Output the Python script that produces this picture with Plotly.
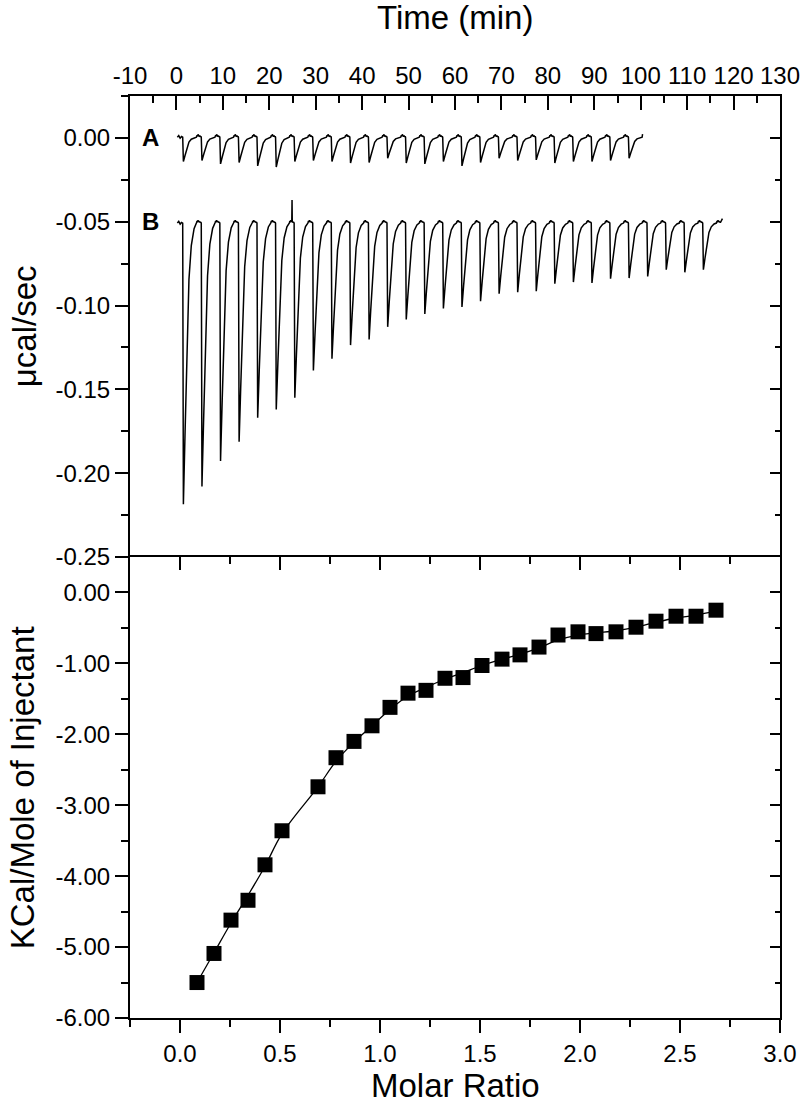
import plotly.graph_objects as go

# ---------------- bottom panel: integrated heats ----------------
molar_ratio = [0.085, 0.17, 0.255, 0.34, 0.425, 0.51, 0.69, 0.78, 0.87, 0.96,
               1.05, 1.14, 1.23, 1.325, 1.415, 1.51, 1.61, 1.70, 1.795, 1.89,
               1.99, 2.08, 2.18, 2.28, 2.38, 2.48, 2.58, 2.68]
heat_kcal = [-5.50, -5.09, -4.62, -4.34, -3.84, -3.36, -2.74, -2.33, -2.10, -1.88,
             -1.62, -1.42, -1.38, -1.21, -1.20, -1.03, -0.94, -0.88, -0.77, -0.60,
             -0.555, -0.58, -0.555, -0.49, -0.405, -0.335, -0.335, -0.25]
fit_kcal = [-5.50, -5.08, -4.66, -4.27, -3.86, -3.40, -2.74, -2.38, -2.11, -1.88,
            -1.65, -1.46, -1.34, -1.22, -1.13, -1.03, -0.94, -0.87, -0.78, -0.67,
            -0.60, -0.57, -0.54, -0.49, -0.42, -0.36, -0.32, -0.26]

ratio_ticks = [0.0, 0.5, 1.0, 1.5, 2.0, 2.5, 3.0]
ratio_labels = ["0.0", "0.5", "1.0", "1.5", "2.0", "2.5", "3.0"]
kcal_ticks = [0, -1, -2, -3, -4, -5, -6]
kcal_labels = ["0.00", "-1.00", "-2.00", "-3.00", "-4.00", "-5.00", "-6.00"]

# ---------------- top panel: raw thermograms ----------------
time_ticks = [-10, 0, 10, 20, 30, 40, 50, 60, 70, 80, 90, 100, 110, 120, 130]
time_labels = ["-10", "0", "10", "20", "30", "40", "50", "60", "70", "80",
               "90", "100", "110", "120", "130"]
power_ticks = [0.0, -0.05, -0.10, -0.15, -0.20, -0.25]
power_labels = ["0.00", "-0.05", "-0.10", "-0.15", "-0.20", "-0.25"]

# trace A (blank titration): injection peak times (min) and peak minima (ucal/s)
peak_time_A = [1.5, 5.5, 9.5, 13.5, 17.5, 21.5, 25.5, 29.5, 33.5, 37.5,
               41.5, 45.5, 49.5, 53.5, 57.5, 61.5, 65.5, 69.5, 73.5, 77.5,
               81.5, 85.5, 89.5, 93.5, 97.5]
peak_min_A = [-0.0141, -0.0135, -0.0155, -0.0147, -0.0167, -0.0174, -0.0141, -0.0135,
              -0.0141, -0.0150, -0.0147, -0.0121, -0.0150, -0.0155, -0.0141, -0.0167,
              -0.0147, -0.0121, -0.0135, -0.0131, -0.0150, -0.0141, -0.0141, -0.0135,
              -0.0121]
baseline_A = 0.0004
span_A = [0.2, 100.4]
end_level_A = 0.0022

# trace B (sample titration)
peak_time_B = [1.5, 5.5, 9.5, 13.5, 17.5, 21.5, 25.5, 29.5, 33.5, 37.5,
               41.5, 45.5, 49.5, 53.5, 57.5, 61.5, 65.5, 69.5, 73.5, 77.5,
               81.5, 85.5, 89.5, 93.5, 97.5, 101.5, 105.5, 109.5, 113.5]
peak_min_B = [-0.2185, -0.2080, -0.1927, -0.1812, -0.1669, -0.1620, -0.1550, -0.1387,
              -0.1317, -0.1236, -0.1202, -0.1127, -0.1083, -0.1050, -0.1018, -0.1008,
              -0.0974, -0.0929, -0.0920, -0.0915, -0.0870, -0.0860, -0.0865, -0.0840,
              -0.0836, -0.0826, -0.0786, -0.0802, -0.0786]
baseline_B = -0.0508
span_B = [0.2, 117.6]
end_level_B = -0.0482
artifact_B = (24.9, -0.037)

# shape of one injection peak: offset from peak (min) and fraction of peak depth
peak_shape_dt = [-0.15, 0.0, 0.35, 0.7, 1.2, 1.7, 2.3, 2.8]
peak_shape_fr = [0.0, 1.0, 0.75, 0.5, 0.2, 0.08, 0.02, 0.0]
# small baseline wiggle between peaks (offset from peak, ucal/s)
wiggle_dt = [2.95, 3.05, 3.15, 3.25, 3.35, 3.45, 3.55, 3.65, 3.75]
wiggle_dv = [0.0012, 0.0005, 0.0017, 0.0008, 0.0013, 0.0004, 0.0010, 0.0002, 0.0006]


def thermogram(peaks, mins, base, span, end_level, extra=None):
    ts, vs = [span[0]], [base]
    ts += [span[0] + 0.3, span[0] + 0.6, span[0] + 0.9]
    vs += [base + 0.0010, base - 0.0006, base + 0.0004]
    for tp, mn in zip(peaks, mins):
        depth = mn - base
        for dt, fr in zip(peak_shape_dt, peak_shape_fr):
            ts.append(tp + dt)
            vs.append(base + fr * depth)
        for dt, dv in zip(wiggle_dt, wiggle_dv):
            if tp + dt < span[1]:
                ts.append(tp + dt)
                vs.append(base + dv)
    if extra is not None:
        ts.append(extra[0])
        vs.append(extra[1])
    ts.append(span[1])
    vs.append(end_level)
    pts = sorted(zip(ts, vs))
    return [p[0] for p in pts], [p[1] for p in pts]


tA, vA = thermogram(peak_time_A, peak_min_A, baseline_A, span_A, end_level_A)
tB, vB = thermogram(peak_time_B, peak_min_B, baseline_B, span_B, end_level_B, artifact_B)

fig = go.Figure()
line_style = dict(color="black", width=1.5)
fig.add_trace(go.Scatter(x=tA, y=vA, mode="lines", line=line_style, xaxis="x2", yaxis="y2"))
fig.add_trace(go.Scatter(x=tB, y=vB, mode="lines", line=line_style, xaxis="x2", yaxis="y2"))
fig.add_trace(go.Scatter(x=molar_ratio, y=fit_kcal, mode="lines",
                         line=dict(color="black", width=1.3, shape="spline"),
                         xaxis="x", yaxis="y"))
fig.add_trace(go.Scatter(x=molar_ratio, y=heat_kcal, mode="markers",
                         marker=dict(symbol="square", size=15, color="black"),
                         xaxis="x", yaxis="y"))
# dummy traces so that mirror axes are drawn
fig.add_trace(go.Scatter(x=[None], y=[None], xaxis="x3", yaxis="y"))
fig.add_trace(go.Scatter(x=[None], y=[None], xaxis="x", yaxis="y3"))
fig.add_trace(go.Scatter(x=[None], y=[None], xaxis="x2", yaxis="y4"))

FONT = "Liberation Sans, Arial, sans-serif"
tick_font = dict(family=FONT, size=24, color="black")
common = dict(showline=True, linewidth=2, linecolor="black", showgrid=False,
              zeroline=False, tickwidth=2, tickcolor="black", tickfont=tick_font,
              automargin=False, ticklabeloverflow="allow")

fig.update_layout(
    width=800, height=1112,
    margin=dict(l=130, r=20, t=96, b=94),
    plot_bgcolor="white", paper_bgcolor="white", showlegend=False,
    font=dict(family=FONT, color="black"),
    xaxis=dict(domain=[0, 1], anchor="y", range=[-0.25, 3.0],
               tickmode="array", tickvals=ratio_ticks, ticktext=ratio_labels,
               ticks="outside", ticklen=13,
               minor=dict(tickmode="linear", tick0=0, dtick=0.25, ticks="outside",
                          ticklen=7, tickwidth=2, tickcolor="black"),
               **common),
    xaxis3=dict(overlaying="x", anchor="y", side="top", range=[-0.25, 3.0],
                tickmode="array", tickvals=ratio_ticks, showticklabels=False,
                ticks="inside", ticklen=13,
                minor=dict(tickmode="linear", tick0=0, dtick=0.25, ticks="inside",
                           ticklen=7, tickwidth=2, tickcolor="black"),
                **common),
    yaxis=dict(domain=[0, 0.5], anchor="x", range=[-6, 0.5],
               tickmode="array", tickvals=kcal_ticks, ticktext=kcal_labels,
               ticks="outside", ticklen=13,
               minor=dict(tickmode="linear", tick0=0, dtick=0.5, ticks="outside",
                          ticklen=7, tickwidth=2, tickcolor="black"),
               **common),
    yaxis3=dict(overlaying="y", anchor="x", side="right", range=[-6, 0.5],
                tickmode="array", tickvals=kcal_ticks, showticklabels=False,
                ticks="inside", ticklen=10,
                minor=dict(tickmode="linear", tick0=0, dtick=0.5, ticks="inside",
                           ticklen=5, tickwidth=2, tickcolor="black"),
                **common),
    xaxis2=dict(domain=[0, 1], anchor="y2", side="top", range=[-10, 130],
                tickmode="array", tickvals=time_ticks, ticktext=time_labels,
                ticks="inside", ticklen=14,
                minor=dict(tickmode="linear", tick0=0, dtick=5, ticks="inside",
                           ticklen=7, tickwidth=2, tickcolor="black"),
                **common),
    yaxis2=dict(domain=[0.5, 1], anchor="x2", range=[-0.25, 0.025],
                tickmode="array", tickvals=power_ticks, ticktext=power_labels,
                ticks="outside", ticklen=13,
                minor=dict(tickmode="linear", tick0=0, dtick=0.025, ticks="outside",
                           ticklen=7, tickwidth=2, tickcolor="black"),
                **common),
    yaxis4=dict(overlaying="y2", anchor="x2", side="right", range=[-0.25, 0.025],
                tickmode="array", tickvals=power_ticks, showticklabels=False,
                ticks="inside", ticklen=10,
                minor=dict(tickmode="linear", tick0=0, dtick=0.025, ticks="inside",
                           ticklen=5, tickwidth=2, tickcolor="black"),
                **common),
)

title_font = dict(family=FONT, size=33, color="black")
fig.add_annotation(text="Time (min)", xref="paper", yref="paper", x=0.5, y=1.0846,
                   xanchor="center", yanchor="middle", showarrow=False, font=title_font)
fig.add_annotation(text="Molar Ratio", xref="paper", yref="paper", x=0.5, y=-0.0727,
                   xanchor="center", yanchor="middle", showarrow=False, font=title_font)
fig.add_annotation(text="μcal/sec", xref="paper", yref="paper", x=-0.162, y=0.75,
                   xanchor="center", yanchor="middle", textangle=-90, showarrow=False,
                   font=title_font)
fig.add_annotation(text="KCal/Mole of Injectant", xref="paper", yref="paper", x=-0.165,
                   y=0.25, xanchor="center", yanchor="middle", textangle=-90,
                   showarrow=False, font=title_font)
label_font = dict(family=FONT, size=24, color="black")
fig.add_annotation(text="<b>A</b>", xref="x2", yref="y2", x=-5.5, y=0.0, xanchor="center",
                   yanchor="middle", showarrow=False, font=label_font)
fig.add_annotation(text="<b>B</b>", xref="x2", yref="y2", x=-5.5, y=-0.05, xanchor="center",
                   yanchor="middle", showarrow=False, font=label_font)

fig.write_html("out.html", config={"displayModeBar": False},
               post_script="document.body.style.margin='0';document.body.style.overflow='hidden';")
